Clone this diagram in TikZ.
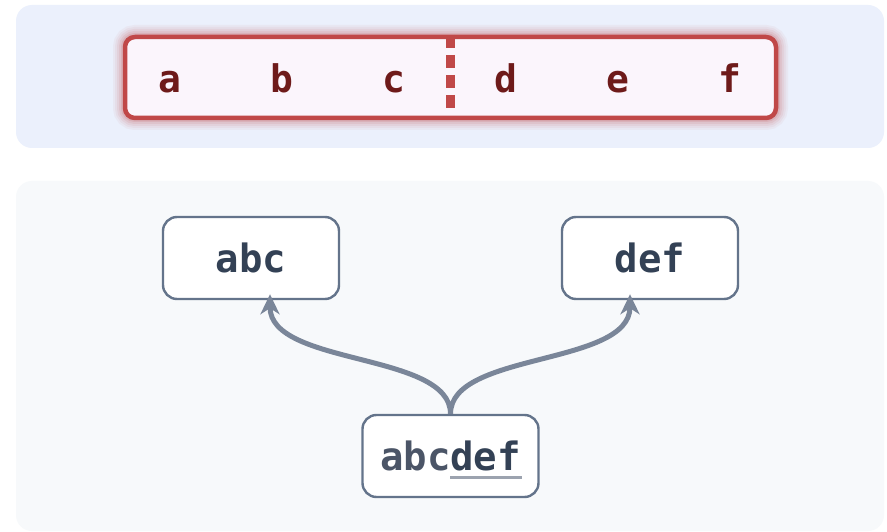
\documentclass[tikz,border=0pt]{standalone}
\usepackage{fontspec}
\newfontfamily\codefont{DejaVu Sans Mono}
\usetikzlibrary{arrows.meta}
\definecolor{toppanel}{HTML}{EBF0FC}
\definecolor{botpanel}{HTML}{F7F9FB}
\definecolor{redline}{HTML}{C04848}
\definecolor{redfill}{HTML}{FBF5FC}
\definecolor{redtext}{HTML}{6E1A1A}
\definecolor{slateline}{HTML}{64748B}
\definecolor{arrowcol}{HTML}{7A8699}
\definecolor{darktext}{HTML}{334155}
\definecolor{lighttext}{HTML}{4B5567}
\definecolor{ulcol}{HTML}{9CA3AF}
\tikzset{
  panel/.style={rounded corners=16pt, draw=none},
  letter/.style={text=redtext, font=\codefont\bfseries\fontsize{38}{40}\selectfont, inner sep=0pt, anchor=base},
  wordbox/.style={draw=slateline, line width=2.4pt, rounded corners=14pt, fill=white,
    minimum width=176pt, minimum height=82pt, inner sep=0pt,
    text=darktext, font=\codefont\bfseries\fontsize{39}{40}\selectfont},
  conn/.style={draw=arrowcol, line width=5pt,
    -{Stealth[length=20pt,width=19pt,inset=6pt]}},
}
\begin{document}
\begin{tikzpicture}[x=1pt,y=-1pt]
\useasboundingbox (0,0) rectangle (887,532);
\fill[white] (0,0) rectangle (887,532);
% panels
\fill[panel, toppanel] (16,5) rectangle (884,148);
\fill[panel, botpanel] (16,181) rectangle (884,531);
% glow
\foreach \w/\o in {24/0.05,20/0.06,16/0.08,12/0.1,8/0.14}{
  \draw[redline, opacity=\o, line width=\w pt, rounded corners=10pt] (125,37) rectangle (776,118);
}
\draw[redline, fill=redfill, line width=4.5pt, rounded corners=10pt] (125,37) rectangle (776,118);
\draw[redline, line width=9pt, dash pattern=on 13pt off 7pt] (450,35) -- (450,115);
% letters
\node[letter] (la) at (170,93) {a};
\node[letter] (lb) at (282,93) {b};
\node[letter] (lc) at (394,93) {c};
\node[letter] (ld) at (506,93) {d};
\node[letter] (le) at (618,93) {e};
\node[letter] (lf) at (730,93) {f};
% nodes
\node[wordbox] (abc) at (251,258) {abc};
\node[wordbox] (def) at (650,258) {def};
\node[wordbox] (src) at (450.5,456) {{\color{lighttext}abc}def};
\draw[ulcol, line width=3pt] (450,477) -- (522,477);
% connectors
\coordinate (abcin) at ([yshift=6pt]abc.south -| 270,0);
\coordinate (defin) at ([yshift=6pt]def.south -| 630,0);
\draw[conn] (src.north) .. controls ++(0,-62) and ++(0,72) .. (abcin);
\draw[conn] (src.north) .. controls ++(0,-62) and ++(0,72) .. (defin);
\end{tikzpicture}
\end{document}
